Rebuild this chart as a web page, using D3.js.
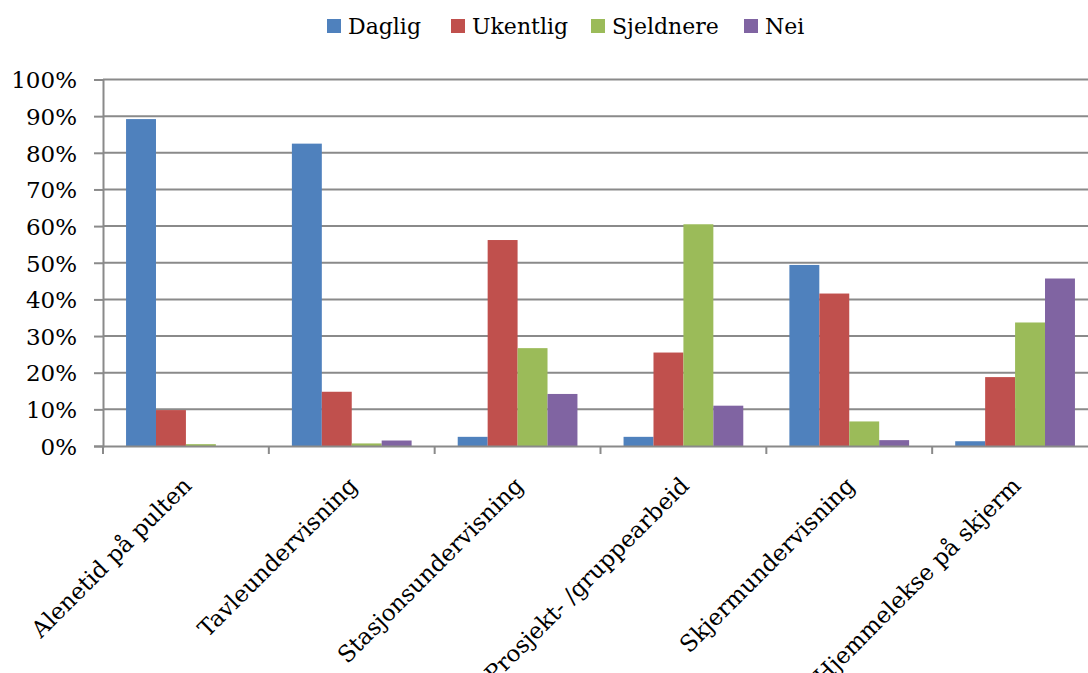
<!DOCTYPE html>
<html><head><meta charset="utf-8">
<script src="https://cdn.jsdelivr.net/npm/d3@7"></script>
<style>
html,body{margin:0;padding:0;background:#fff;}
svg text{font-family:"DejaVu Serif","Liberation Serif",serif;fill:#000;}
</style></head>
<body>
<svg id="chart" width="1088" height="673"></svg>
<script>
const categories = ["Alenetid på pulten","Tavleundervisning","Stasjonsundervisning","Prosjekt- /gruppearbeid","Skjermundervisning","Hjemmelekse på skjerm"];
const seriesNames = ["Daglig","Ukentlig","Sjeldnere","Nei"];
const daglig    = [0.892, 0.825, 0.025, 0.025, 0.494, 0.013];
const ukentlig  = [0.098, 0.148, 0.562, 0.255, 0.416, 0.188];
const sjeldnere = [0.005, 0.007, 0.267, 0.605, 0.067, 0.337];
const nei       = [0.000, 0.015, 0.142, 0.110, 0.016, 0.457];
const colors = ["#4F81BD","#C0504D","#9BBB59","#8064A2"];
const yTicks = [0,0.1,0.2,0.3,0.4,0.5,0.6,0.7,0.8,0.9,1.0];

(function(){
const seriesValues = [daglig, ukentlig, sjeldnere, nei];
const svg = d3.select("#chart");
const pLeft = 103, pRight = 1098, pTop = 79.5, pBottom = 446;

const x0 = d3.scaleBand().domain(categories).range([pLeft, pRight]).paddingInner(0).paddingOuter(0);
const x1 = d3.scaleBand().domain(seriesNames).range([0, x0.bandwidth()]).paddingInner(0).paddingOuter(0.77);
const y = d3.scaleLinear().domain([0,1]).range([pBottom, pTop]);
const gridColor = "#8a8a8a";

svg.append("g").selectAll("line").data(yTicks.filter(d=>d>0)).join("line")
  .attr("x1", pLeft).attr("x2", pRight)
  .attr("y1", d=>y(d)).attr("y2", d=>y(d))
  .attr("stroke", gridColor).attr("stroke-width", 2);

const yAxis = d3.axisLeft(y).tickValues(yTicks).tickFormat(d3.format(".0%")).tickSize(9).tickPadding(17);
const gy = svg.append("g").attr("transform", `translate(${pLeft},0)`).call(yAxis);
gy.select(".domain").attr("stroke", gridColor).attr("stroke-width", 2);
gy.selectAll(".tick line").attr("stroke", gridColor).attr("stroke-width", 2);
gy.selectAll(".tick text").attr("font-size", 23).attr("font-family", "DejaVu Serif").attr("fill", "#000").attr("dy", "0.36em");

const groups = svg.append("g").selectAll("g").data(categories).join("g")
  .attr("transform", d=>`translate(${x0(d)},0)`);
groups.selectAll("rect").data((c,i)=>seriesNames.map((s,j)=>({s, v: seriesValues[j][i], j})))
  .join("rect")
  .attr("x", d=>x1(d.s)).attr("width", x1.bandwidth())
  .attr("y", d=>y(d.v)).attr("height", d=>pBottom - y(d.v))
  .attr("fill", d=>colors[d.j]);

const xAxis = d3.axisBottom(x0).tickSize(0).tickFormat("");
const gx = svg.append("g").attr("transform", `translate(0,${pBottom})`).call(xAxis);
gx.select(".domain").attr("stroke", gridColor).attr("stroke-width", 2);
gx.selectAll(".tick").remove();
const boundaries = categories.map(c=>x0(c)).concat([pRight]);
gx.selectAll("line.bt").data(boundaries).join("line").attr("class","bt")
  .attr("x1", d=>d).attr("x2", d=>d).attr("y1", 0).attr("y2", 8)
  .attr("stroke", gridColor).attr("stroke-width", 2);

svg.append("g").selectAll("text").data(categories).join("text")
  .attr("transform", d=>`translate(${x0(d)+x0.bandwidth()/2+7},487) rotate(-45)`)
  .attr("text-anchor", "end").attr("font-size", 23)
  .text(d=>d);

// legend layout positions
const legendX = d3.scaleOrdinal().domain(seriesNames).range([327, 451, 591, 744]);
const lg = svg.append("g").selectAll("g").data(seriesNames).join("g")
  .attr("transform", d=>`translate(${legendX(d)},0)`);
lg.append("rect").attr("x",0).attr("y",19).attr("width",14).attr("height",14).attr("fill",(d,i)=>colors[i]);
lg.append("text").attr("x",21).attr("y",34).attr("font-size",22).text(d=>d);
})();
</script>
</body></html>
